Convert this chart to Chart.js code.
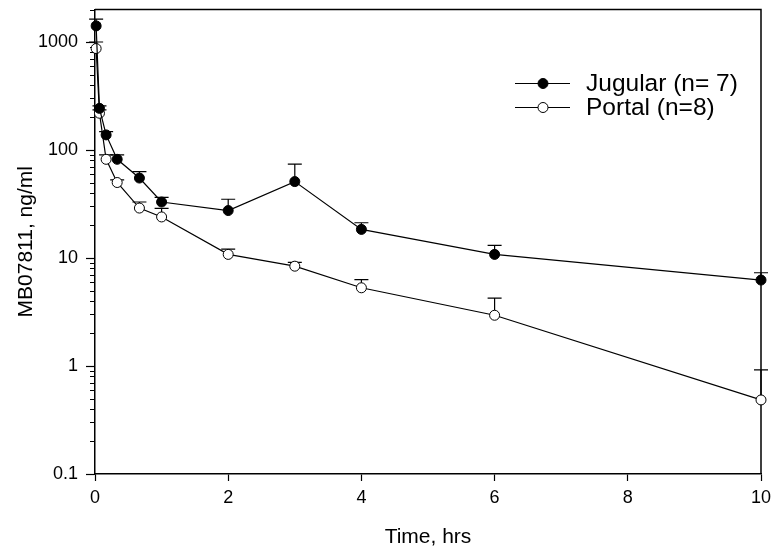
<!DOCTYPE html>
<html>
<head>
<meta charset="utf-8">
<script src="https://cdn.jsdelivr.net/npm/chart.js@4.4.1/dist/chart.umd.min.js"></script>
<style>
html,body{margin:0;padding:0;background:#fff;}
#wrap{width:773px;height:554px;}
</style>
</head>
<body>
<div id="wrap"><canvas id="c" width="773" height="554"></canvas></div>
<script>
// ---- data ----
const timesHrs      = [0.017, 0.067, 0.167, 0.333, 0.667, 1, 2, 3, 4, 6, 10];
const jugularMean   = [1410, 243, 138, 82, 55, 33, 27.5, 51, 18.4, 10.8, 6.25];
const jugularUpper  = [1630, 256, 148, 90, 63, 36.5, 35, 74, 21.2, 13.1, 7.3];
const portalMean    = [870, 219, 82, 50, 29, 24, 10.8, 8.4, 5.3, 2.95, 0.485];
const portalUpper   = [1000, 235, 90, 53, 33, 28.8, 12.1, 9.1, 6.3, 4.26, 0.92];
const seriesLabels  = ['Jugular (n= 7)', 'Portal (n=8)'];
const xTickValues   = [0, 2, 4, 6, 8, 10];
const yMajorTicks   = [0.1, 1, 10, 100, 1000];
const yMinorTicks   = [0.2, 0.3, 0.4, 0.5, 0.6, 0.7, 0.8, 0.9,
                       2, 3, 4, 5, 6, 7, 8, 9,
                       20, 30, 40, 50, 60, 70, 80, 90,
                       200, 300, 400, 500, 600, 700, 800, 900, 2000];
const xTitle = 'Time, hrs';
const yTitle = 'MB07811, ng/ml';

const FONT = "'Liberation Sans', Arial, Helvetica, sans-serif";

function toPoints(xs, ys) { return xs.map((x, i) => ({ x: x, y: ys[i] })); }

const errorBarsAndFrame = {
  id: 'errorBarsAndFrame',
  beforeDatasetsDraw(chart) {
    const { ctx, chartArea: a, scales: { x, y } } = chart;
    ctx.save();
    ctx.strokeStyle = '#000';
    ctx.lineWidth = 1.5;
    ctx.beginPath();
    ctx.moveTo(a.left, a.top);
    ctx.lineTo(a.right, a.top);
    ctx.lineTo(a.right, a.bottom);
    ctx.stroke();
    ctx.lineWidth = 1.2;
    ctx.beginPath();
    yMinorTicks.forEach(v => {
      const py = Math.round(y.getPixelForValue(v)) + 0.5;
      ctx.moveTo(a.left, py);
      ctx.lineTo(a.left - 5, py);
    });
    ctx.stroke();
    ctx.lineWidth = 1.2;
    chart.data.datasets.forEach(ds => {
      ds.data.forEach((p, i) => {
        const px = x.getPixelForValue(p.x);
        const py = y.getPixelForValue(p.y);
        const pu = y.getPixelForValue(ds.upper[i]);
        ctx.beginPath();
        ctx.moveTo(px, py);
        ctx.lineTo(px, pu);
        ctx.moveTo(px - 7, pu);
        ctx.lineTo(px + 7, pu);
        ctx.stroke();
      });
    });
    ctx.restore();
  },
  afterDraw(chart) {
    const { ctx, chartArea: a } = chart;
    ctx.save();
    chart.data.datasets.forEach((ds, i) => {
      const cy = a.top + 74 + i * 24;
      const x0 = a.right - 246, x1 = a.right - 191, xm = a.right - 218;
      ctx.strokeStyle = '#000';
      ctx.lineWidth = 1.2;
      ctx.beginPath();
      ctx.moveTo(x0, cy);
      ctx.lineTo(x1, cy);
      ctx.stroke();
      ctx.beginPath();
      ctx.arc(xm, cy, 5, 0, Math.PI * 2);
      ctx.fillStyle = ds.pointBackgroundColor;
      ctx.fill();
      ctx.lineWidth = 1;
      ctx.stroke();
      ctx.fillStyle = '#000';
      ctx.font = '24.5px ' + FONT;
      ctx.textBaseline = 'middle';
      ctx.textAlign = 'left';
      ctx.fillText(ds.label, a.right - 175, cy + 1);
    });
    ctx.restore();
  }
};

new Chart(document.getElementById('c'), {
  type: 'line',
  data: {
    datasets: [
      {
        label: seriesLabels[0],
        data: toPoints(timesHrs, jugularMean),
        upper: jugularUpper,
        borderColor: '#000',
        borderWidth: 1.2,
        pointRadius: 5,
        pointBorderWidth: 1,
        pointBorderColor: '#000',
        pointBackgroundColor: '#000',
        tension: 0,
        clip: false
      },
      {
        label: seriesLabels[1],
        data: toPoints(timesHrs, portalMean),
        upper: portalUpper,
        borderColor: '#000',
        borderWidth: 1.2,
        pointRadius: 5,
        pointBorderWidth: 1,
        pointBorderColor: '#000',
        pointBackgroundColor: '#fff',
        tension: 0,
        clip: false
      }
    ]
  },
  options: {
    responsive: false,
    animation: false,
    events: [],
    layout: { padding: { top: 9.5, right: 12, left: 0, bottom: 0 } },
    plugins: { legend: { display: false }, tooltip: { enabled: false } },
    scales: {
      x: {
        type: 'linear',
        min: 0, max: 10,
        afterBuildTicks: s => { s.ticks = xTickValues.map(v => ({ value: v })); },
        afterFit: s => { s.height = 80; s.paddingLeft = 0; s.paddingRight = 0; },
        ticks: { font: { family: FONT, size: 18 }, color: '#000', padding: 6, maxRotation: 0, autoSkip: false },
        grid: { drawOnChartArea: false, tickLength: 7, tickColor: '#000', tickWidth: 1.2 },
        border: { color: '#000', width: 1.5 },
        title: { display: true, text: xTitle, color: '#000', font: { family: FONT, size: 21 }, padding: { top: 0, bottom: 4 } }
      },
      y: {
        type: 'logarithmic',
        min: 0.1, max: 2000,
        afterBuildTicks: s => { s.ticks = yMajorTicks.map(v => ({ value: v })); },
        afterFit: s => { s.width = 95; s.paddingTop = 0; s.paddingBottom = 0; },
        ticks: { font: { family: FONT, size: 18 }, color: '#000', padding: 8, callback: v => String(v) },
        grid: { drawOnChartArea: false, tickLength: 9, tickColor: '#000', tickWidth: 1.2 },
        border: { color: '#000', width: 1.5 },
        title: { display: true, text: yTitle, color: '#000', font: { family: FONT, size: 21 }, padding: { top: 14, bottom: 0 } }
      }
    }
  },
  plugins: [errorBarsAndFrame]
});
</script>
</body>
</html>
